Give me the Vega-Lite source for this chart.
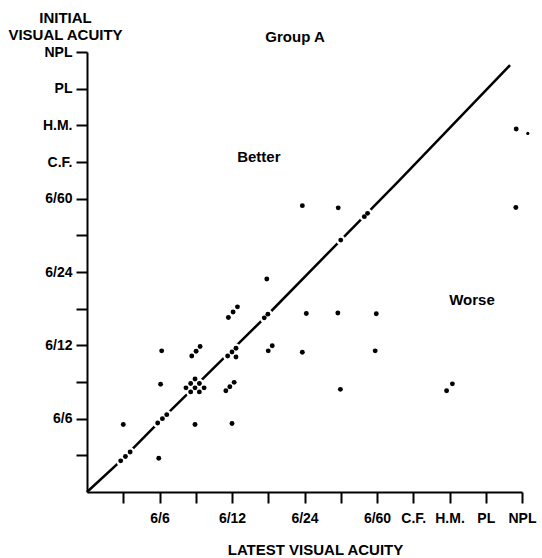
{
  "$schema": "https://vega.github.io/schema/vega-lite/v6.json",
  "autosize": "none",
  "width": 435,
  "height": 440,
  "padding": {"left": 87, "top": 52, "right": 20, "bottom": 66},
  "background": "white",
  "view": {"stroke": null},
  "config": {
    "font": "Liberation Sans",
    "axis": {
      "grid": false,
      "domainColor": "black",
      "domainWidth": 2,
      "tickColor": "black",
      "tickWidth": 2,
      "tickSize": 11,
      "labelFont": "Liberation Sans",
      "labelFontWeight": "bold",
      "labelFontSize": 14,
      "labelColor": "black",
      "labelOverlap": false,
      "labelFlush": false,
      "labelBound": false,
      "titleFont": "Liberation Sans",
      "titleFontWeight": "bold",
      "titleFontSize": 15,
      "titleColor": "black"
    }
  },
  "datasets": {
    "points": [
      {"x": 0.93, "y": 0.85, "dot": "normal"},
      {"x": 1.06, "y": 0.97, "dot": "normal"},
      {"x": 1.19, "y": 1.09, "dot": "normal"},
      {"x": 1.0, "y": 1.84, "dot": "normal"},
      {"x": 1.98, "y": 0.92, "dot": "normal"},
      {"x": 1.95, "y": 1.88, "dot": "normal"},
      {"x": 2.08, "y": 2.0, "dot": "normal"},
      {"x": 2.2, "y": 2.11, "dot": "normal"},
      {"x": 2.98, "y": 1.84, "dot": "normal"},
      {"x": 4.0, "y": 1.87, "dot": "normal"},
      {"x": 2.03, "y": 2.94, "dot": "normal"},
      {"x": 2.06, "y": 3.85, "dot": "normal"},
      {"x": 2.73, "y": 2.84, "dot": "normal"},
      {"x": 2.86, "y": 2.96, "dot": "normal"},
      {"x": 2.98, "y": 3.08, "dot": "normal"},
      {"x": 3.1, "y": 2.96, "dot": "normal"},
      {"x": 3.23, "y": 2.84, "dot": "normal"},
      {"x": 2.98, "y": 2.84, "dot": "normal"},
      {"x": 2.86, "y": 2.73, "dot": "normal"},
      {"x": 3.1, "y": 2.73, "dot": "normal"},
      {"x": 2.89, "y": 3.71, "dot": "normal"},
      {"x": 3.01, "y": 3.84, "dot": "normal"},
      {"x": 3.12, "y": 3.97, "dot": "normal"},
      {"x": 3.83, "y": 2.76, "dot": "normal"},
      {"x": 3.94, "y": 2.87, "dot": "normal"},
      {"x": 4.06, "y": 2.99, "dot": "normal"},
      {"x": 3.88, "y": 3.71, "dot": "normal"},
      {"x": 4.0, "y": 3.82, "dot": "normal"},
      {"x": 4.11, "y": 3.92, "dot": "normal"},
      {"x": 4.11, "y": 3.68, "dot": "normal"},
      {"x": 3.9, "y": 4.76, "dot": "normal"},
      {"x": 4.03, "y": 4.91, "dot": "normal"},
      {"x": 4.15, "y": 5.05, "dot": "normal"},
      {"x": 4.89, "y": 4.75, "dot": "normal"},
      {"x": 4.99, "y": 4.85, "dot": "normal"},
      {"x": 5.0, "y": 3.85, "dot": "normal"},
      {"x": 5.11, "y": 3.99, "dot": "normal"},
      {"x": 4.96, "y": 5.81, "dot": "normal"},
      {"x": 5.94, "y": 7.81, "dot": "normal"},
      {"x": 6.93, "y": 7.75, "dot": "normal"},
      {"x": 7.65, "y": 7.51, "dot": "normal"},
      {"x": 7.74, "y": 7.6, "dot": "normal"},
      {"x": 7.0, "y": 6.87, "dot": "normal"},
      {"x": 6.05, "y": 4.87, "dot": "normal"},
      {"x": 6.92, "y": 4.88, "dot": "normal"},
      {"x": 7.98, "y": 4.86, "dot": "normal"},
      {"x": 5.94, "y": 3.81, "dot": "normal"},
      {"x": 7.95, "y": 3.85, "dot": "normal"},
      {"x": 6.99, "y": 2.8, "dot": "normal"},
      {"x": 9.92, "y": 2.76, "dot": "normal"},
      {"x": 10.08, "y": 2.95, "dot": "normal"},
      {"x": 11.84, "y": 9.9, "dot": "normal"},
      {"x": 12.16, "y": 9.78, "dot": "small"},
      {"x": 11.83, "y": 7.76, "dot": "normal"}
    ],
    "diag": [
      {"x": 0, "y": 0},
      {"x": 0.93, "y": 0.85},
      {"x": 2.08, "y": 2.0},
      {"x": 4.95, "y": 4.8},
      {"x": 7.0, "y": 6.87},
      {"x": 8.63, "y": 8.51},
      {"x": 11.67, "y": 11.64}
    ],
    "notes": [
      {"x": 5.74, "y": 12.41, "text": "Group A"},
      {"x": 4.74, "y": 9.14, "text": "Better"},
      {"x": 10.62, "y": 5.24, "text": "Worse"}
    ]
  },
  "encoding": {
    "x": {
      "field": "x",
      "type": "quantitative",
      "scale": {"domain": [0, 12], "nice": false, "zero": false},
      "axis": {
        "values": [1, 2, 3, 4, 5, 6, 7, 8, 9, 10, 11, 12],
        "labelExpr": "datum.value == 2 ? '6/6' : datum.value == 4 ? '6/12' : datum.value == 6 ? '6/24' : datum.value == 8 ? '6/60' : datum.value == 9 ? 'C.F.' : datum.value == 10 ? 'H.M.' : datum.value == 11 ? 'PL' : datum.value == 12 ? 'NPL' : ''",
        "labelPadding": 8,
        "title": "LATEST VISUAL ACUITY",
        "titleX": 228,
        "titleY": 62,
        "titleAlign": "center",
        "titleBaseline": "alphabetic"
      }
    },
    "y": {
      "field": "y",
      "type": "quantitative",
      "scale": {"domain": [0, 12], "nice": false, "zero": false},
      "axis": {
        "values": [1, 2, 3, 4, 5, 6, 7, 8, 9, 10, 11, 12],
        "labelExpr": "datum.value == 2 ? '6/6' : datum.value == 4 ? '6/12' : datum.value == 6 ? '6/24' : datum.value == 8 ? '6/60' : datum.value == 9 ? 'C.F.' : datum.value == 10 ? 'H.M.' : datum.value == 11 ? 'PL' : datum.value == 12 ? 'NPL' : ''",
        "labelPadding": 4,
        "title": ["INITIAL", "VISUAL ACUITY"],
        "titleAngle": 0,
        "titleX": -22,
        "titleY": -30,
        "titleAlign": "center",
        "titleBaseline": "alphabetic",
        "titleLineHeight": 17
      }
    }
  },
  "layer": [
    {
      "data": {"name": "diag"},
      "mark": {"type": "line", "color": "black", "strokeWidth": 2.5},
      "encoding": {}
    },
    {
      "data": {"name": "points"},
      "mark": {"type": "circle", "color": "white", "opacity": 1, "size": 90},
      "encoding": {}
    },
    {
      "data": {"name": "points"},
      "transform": [{"filter": "datum.dot == 'normal'"}],
      "mark": {"type": "circle", "color": "black", "opacity": 1, "size": 24},
      "encoding": {}
    },
    {
      "data": {"name": "points"},
      "transform": [{"filter": "datum.dot == 'small'"}],
      "mark": {"type": "circle", "color": "black", "opacity": 1, "size": 10},
      "encoding": {}
    },
    {
      "data": {"name": "notes"},
      "mark": {"type": "text", "font": "Liberation Sans", "fontWeight": "bold", "fontSize": 15, "color": "black", "align": "center", "baseline": "middle"},
      "encoding": {"text": {"field": "text", "type": "nominal"}}
    }
  ]
}
